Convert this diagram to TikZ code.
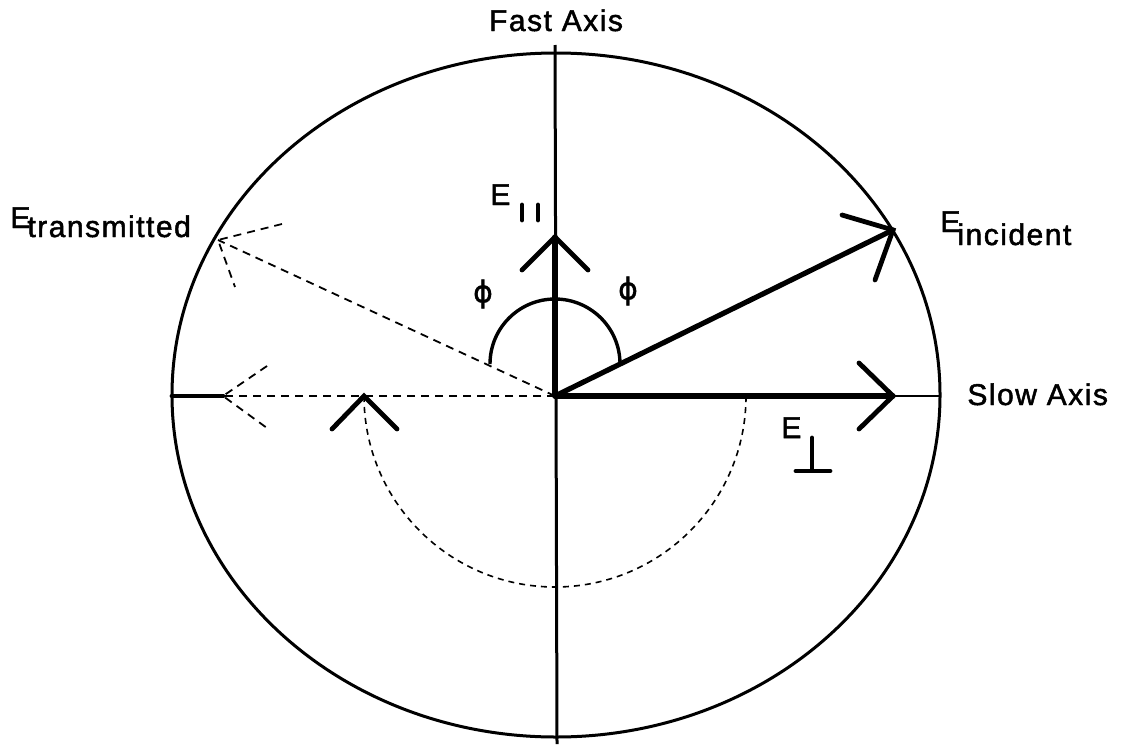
\documentclass[tikz,border=0pt]{standalone}
\usepackage{fontspec}
\setmainfont{Liberation Sans}[LetterSpace=5,FakeBold=1.6]
\newfontfamily\phifont{DejaVu Sans}[FakeBold=1.2]
\tikzset{
  lbl/.style={inner sep=0pt, font=\fontsize{15}{17}\selectfont},
  axisline/.style={line width=1.5pt},
  thinaxis/.style={line width=1.1pt},
  vecline/.style={line width=2.6pt, line cap=round},
  headline/.style={line width=2.4pt, line cap=round},
  dashline/.style={line width=0.9pt, dash pattern=on 4pt off 3pt},
  dasharc/.style={line width=0.8pt, dash pattern=on 3pt off 2.5pt},
  subbar/.style={line width=2.4pt, line cap=round},
}
\begin{document}
\begin{tikzpicture}[x=0.5pt,y=-0.5pt]
\useasboundingbox (0,0) rectangle (1133,744);
% key points
\coordinate (C) at (556,395);
\coordinate (O) at (555,396);
\coordinate (FT) at (555,45);
\coordinate (FB) at (557,744);
\coordinate (SL) at (172,396);
\coordinate (SR) at (940,396);
\coordinate (I) at (893,230);
\coordinate (I1) at (842,215);
\coordinate (I2) at (875,280);
\coordinate (P) at (893,396);
\coordinate (P1) at (859,363);
\coordinate (P2) at (859,429);
\coordinate (Q) at (555,237);
\coordinate (Q1) at (522,270);
\coordinate (Q2) at (588,270);
\coordinate (T) at (218,240);
\coordinate (T1) at (282,224);
\coordinate (T2) at (235,287);
\coordinate (H) at (223,396);
\coordinate (H1) at (267,366);
\coordinate (H2) at (267,428);
\coordinate (R) at (364,396);
\coordinate (R1) at (332,429);
\coordinate (R2) at (397,429);
\coordinate (A) at (490,364);
% ellipse and axes
\draw[axisline] (C) ellipse [x radius=384, y radius=342];
\draw[axisline] (FT) -- (FB);
\draw[headline] (SL) -- (H);
\draw[thinaxis] (P) -- (SR);
% incident vector
\draw[vecline] (O) -- (I);
\draw[headline] (I1) -- (I) -- (I2);
% perpendicular component
\draw[vecline] (O) -- (P);
\draw[headline] (P1) -- (P) -- (P2);
% parallel component
\draw[headline] (Q1) -- (Q) -- (Q2);
\draw[vecline] (O) -- (Q);
% transmitted (dashed)
\draw[dashline] (O) -- (T);
\draw[dashline] (T1) -- (T) -- (T2);
\draw[dashline] (O) -- (H);
\draw[dashline] (H1) -- (H) -- (H2);
% rotation chevron and dashed arc
\draw[dasharc] (R) arc[start angle=180, end angle=0, radius=191];
\draw[headline] (R1) -- (R) -- (R2);
% angle arc
\draw[line width=1.7pt] (A) arc[start angle=180, end angle=360, radius=65];
% labels
\node[lbl, anchor=base] (fast) at (556,31) {Fast Axis};
\node[lbl, anchor=base west] (slow) at (967,405) {Slow Axis};
\node[lbl, anchor=base west] (einc) at (940,232) {E\kern-1.5pt\lower6.5pt\hbox{incident}};
\node[lbl, anchor=base west] (etr) at (10,228) {E\kern-1.5pt\lower4.5pt\hbox{transmitted}};
\node[lbl, anchor=base west] (eperp) at (781,438) {E};
\node[lbl, anchor=base west] (epar) at (490,205) {E};
\node[lbl] (phiL) at (483,294) {\phifont ϕ};
\node[lbl] (phiR) at (628,291) {\phifont ϕ};
% subscript symbols
\coordinate (b1t) at (522,205); \coordinate (b1b) at (522,220);
\coordinate (b2t) at (538,205); \coordinate (b2b) at (538,220);
\draw[subbar] (b1t) -- (b1b);
\draw[subbar] (b2t) -- (b2b);
\coordinate (pt) at (812,438); \coordinate (pb) at (812,470);
\coordinate (pl) at (796,471); \coordinate (pr) at (830,471);
\draw[subbar] (pt) -- (pb);
\draw[subbar] (pl) -- (pr);
\end{tikzpicture}
\end{document}
